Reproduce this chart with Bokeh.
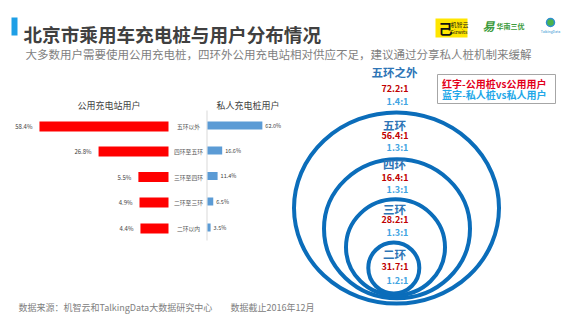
from bokeh.plotting import figure
from bokeh.models import Range1d, ColumnDataSource
from bokeh.core.properties import value
from bokeh.embed import file_html
from bokeh.resources import INLINE

# ---------------- data ----------------
zones = ["五环以外", "四环至五环", "三环至四环", "二环至三环", "二环以内"]
public_users = [58.4, 26.8, 5.5, 4.9, 4.4]      # 公用充电站用户 (%)
private_users = [62.0, 16.6, 11.4, 6.5, 3.5]    # 私人充电桩用户 (%)

ring_names = ["五环之外", "五环", "四环", "三环", "二环"]
public_ratio = ["72.2:1", "56.4:1", "16.4:1", "28.2:1", "31.7:1"]
private_ratio = ["1.4:1", "1.3:1", "1.3:1", "1.3:1", "1.2:1"]

title = "北京市乘用车充电桩与用户分布情况"
subtitle = "大多数用户需要使用公用充电桩，四环外公用充电站相对供应不足，建议通过分享私人桩机制来缓解"
source = "数据来源：机智云和TalkingData大数据研究中心"
cutoff = "数据截止2016年12月"

FONT = value("Noto Sans CJK SC")

p = figure(width=581, height=323, output_backend="svg", toolbar_location=None,
           x_range=Range1d(0, 581), y_range=Range1d(323, 0),
           min_border=0, outline_line_color=None, background_fill_color="white")
p.axis.visible = False
p.grid.visible = False


def txt(x, y, t, size, color, align="left", bold=False, baseline="middle", italic=False):
    style = "bold" if bold else "normal"
    if italic:
        style = "bold italic" if bold else "italic"
    p.text(x=[x], y=[y], text=[t], text_font=FONT, text_font_size=value(size),
           text_color=color, text_align=align, text_baseline=baseline,
           text_font_style=style)


# ---------------- header ----------------
p.quad(left=[11], right=[17], top=[17], bottom=[35], fill_color="#1E9FE6", line_color=None)
txt(23, 33, title, "18.6px", "#404040", bold=True)
txt(25, 53.5, subtitle, "11.5px", "#7F7F7F")

# logos (approximate)
p.quad(left=[435], right=[467], top=[18], bottom=[37], fill_color="#FFE600", line_color=None)
txt(438, 27.5, "己", "14px", "#111111", bold=True)
txt(450, 24, "机智云", "6px", "#111111")
txt(450, 31, "Gizwits", "5px", "#111111")
txt(482, 25, "\u6613", "12px", "#3C9B3C", bold=True, italic=True)
txt(496, 25, "华南三优", "7px", "#3C9B3C", bold=True)
p.circle(x=[550], y=[22], radius=4, fill_color="#4BB34B", line_color="#2E8FD0", line_width=1.5)
txt(550, 31, "TalkingData", "3.5px", "#2E8FD0", align="center")

# ---------------- bar chart ----------------
row_y = [126, 151, 176.5, 202, 228]
center_x = 168.0
red_scale = 1.87
red_offset = 10.6
blue_x0 = 207.0
blue_scale = 0.885

red_left = [center_x - (v + red_offset) * red_scale for v in public_users]
blue_right = [blue_x0 + v * blue_scale for v in private_users]

src = ColumnDataSource(dict(
    y=row_y, zone=zones,
    red_left=red_left, red_right=[center_x] * len(zones),
    blue_left=[blue_x0] * len(zones), blue_right=blue_right,
    red_lab=[f"{v:.1f}%" for v in public_users],
    blue_lab=[f"{v:.1f}%" for v in private_users],
    red_lab_x=[x - 7 for x in red_left],
    blue_lab_x=[x + 3 for x in blue_right],
    blue_y=[y - 1 for y in row_y],
    cat_x=[188] * len(zones),
))

p.segment(x0=[blue_x0 - 0.5], x1=[blue_x0 - 0.5], y0=[110], y1=[240], line_color="#D9D9D9", line_width=1)
p.hbar(y="y", left="red_left", right="red_right", height=10, source=src,
       fill_color="#FF0000", line_color=None)
p.hbar(y="blue_y", left="blue_left", right="blue_right", height=8, source=src,
       fill_color="#5B9BD5", line_color=None)
p.text(x="red_lab_x", y="y", text="red_lab", source=src, text_font=FONT,
       text_font_size=value("6px"), text_color="#404040", text_align="right", text_baseline="middle")
p.text(x="blue_lab_x", y="blue_y", text="blue_lab", source=src, text_font=FONT,
       text_font_size=value("5.5px"), text_color="#404040", text_align="left", text_baseline="middle")
p.text(x="cat_x", y="y", text="zone", source=src, text_font=FONT,
       text_font_size=value("5.8px"), text_color="#595959", text_align="center", text_baseline="middle")

txt(108.5, 105, "公用充电站用户", "9px", "#404040", align="center")
txt(216, 105, "私人充电桩用户", "9px", "#404040")

# ---------------- rings ----------------
ring_x = [396, 396.5, 395, 393.3]
ring_y = [207.5, 228.3, 246.8, 267.5]
ring_w = [205, 146, 99, 51]
ring_h = [191, 139, 96, 51]
p.ellipse(x=ring_x, y=ring_y, width=ring_w, height=ring_h, fill_color=None,
          line_color="#0B6DBA", line_width=4)

name_y = [71.7, 124, 163.3, 208, 253]
red_y = [88.3, 135, 177.3, 219, 265.7]
blue_y = [100.7, 146.7, 189.3, 232, 280]
rsrc = ColumnDataSource(dict(
    name=ring_names, pub=public_ratio, pri=private_ratio,
    ny=name_y, ry=red_y, by=blue_y,
    nx=[394] * 5, rx=[394.5] * 5, bx=[397] * 5,
))
p.text(x="nx", y="ny", text="name", source=rsrc, text_font=FONT, text_font_size=value("11.5px"),
       text_font_style="bold", text_color="#2E75B6", text_align="center", text_baseline="middle")
p.text(x="rx", y="ry", text="pub", source=rsrc, text_font=FONT, text_font_size=value("9px"),
       text_font_style="bold", text_color="#C00000", text_align="center", text_baseline="middle")
p.text(x="bx", y="by", text="pri", source=rsrc, text_font=FONT, text_font_size=value("9px"),
       text_font_style="bold", text_color="#41A4E2", text_align="center", text_baseline="middle")

# legend box
p.quad(left=[437], right=[555], top=[74], bottom=[103], fill_color="white",
       line_color="#A6A6A6", line_width=1)
txt(441.5, 82.5, "红字-公用桩vs公用用户", "10px", "#E3001B", bold=True)
txt(441.5, 93.5, "蓝字-私人桩vs私人用户", "10px", "#22A7E8", bold=True)

# ---------------- footer ----------------
txt(18, 307, source, "9px", "#808080")
txt(230, 307, cutoff, "9px", "#808080")

open("out.html", "w").write(file_html(p, INLINE))
